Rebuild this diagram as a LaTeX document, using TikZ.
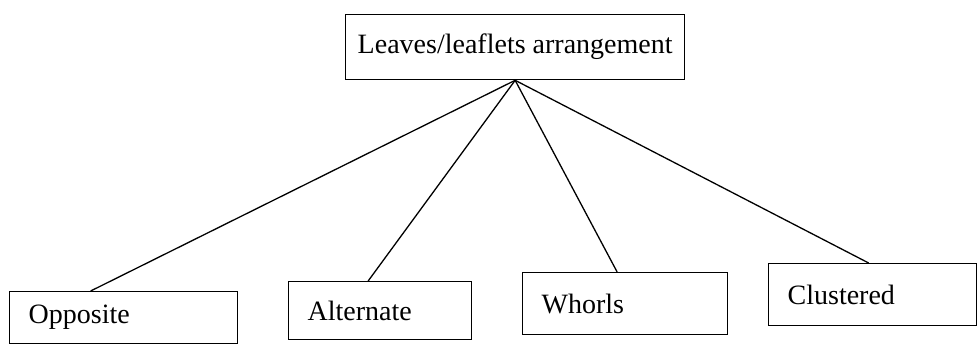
\documentclass[tikz,border=0pt]{standalone}
\usepackage{fontspec}
\setmainfont{Liberation Serif}
\usetikzlibrary{positioning}
\tikzstyle{box}=[rectangle,draw,line width=1.3pt,inner xsep=19pt,inner ysep=2pt,align=left,anchor=north west,font=\fontsize{28}{32}\selectfont]
\tikzstyle{branch}=[line width=1.3pt]

\begin{document}
\begin{tikzpicture}[x=1pt,y=-1pt]
\useasboundingbox (0,0) rectangle (978,346);

\node (arr) [box,inner xsep=4pt,minimum width=339pt,minimum height=65pt] at (345,14) {Leaves/leaflets arrangement} ;

\node (opp) [box,text width=190pt,minimum height=52pt] at (9,291) {Opposite} ;
\node (alt) [box,text width=145pt,minimum height=58pt] at (288,281) {Alternate} ;
\node (who) [box,text width=167pt,minimum height=62pt] at (522,272) {Whorls} ;
\node (clu) [box,text width=170pt,minimum height=62pt] at (768,263) {Clustered} ;

\draw [branch] (arr.south) -- ([xshift=-33pt]opp.north) ;
\draw [branch] (arr.south) -- ([xshift=-12pt]alt.north) ;
\draw [branch] (arr.south) -- ([xshift=-8pt]who.north) ;
\draw [branch] (arr.south) -- ([xshift=-4pt]clu.north) ;

\end{tikzpicture}
\end{document}
